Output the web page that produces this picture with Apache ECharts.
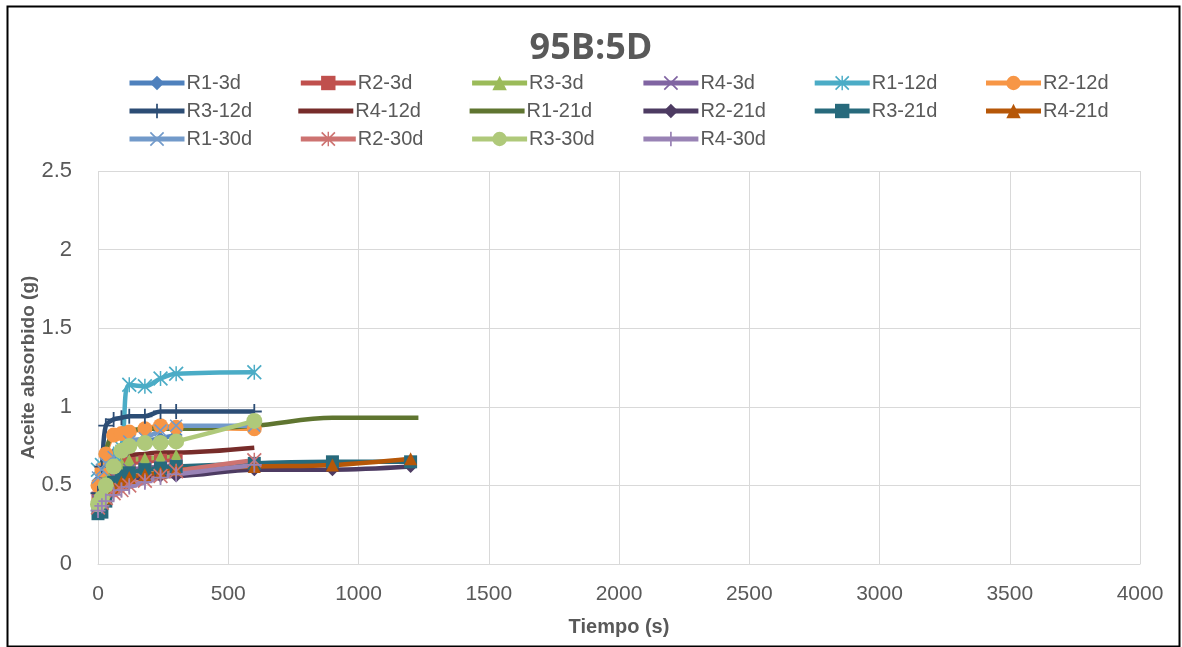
<!DOCTYPE html>
<html><head><meta charset="utf-8">
<script src="https://cdn.jsdelivr.net/npm/echarts@6/dist/echarts.min.js"></script>
<style>html,body{margin:0;padding:0;background:#fff}#c{width:1182px;height:647px}</style>
</head><body><div id="c"></div>
<script>
// ---- data ----
const seriesNames = ['R1-3d','R2-3d','R3-3d','R4-3d','R1-12d','R2-12d','R3-12d','R4-12d','R1-21d','R2-21d','R3-21d','R4-21d','R1-30d','R2-30d','R3-30d','R4-30d'];
const t3 = [0,15,30,60,90,120,180,240,300];
const t12 = [0,15,30,60,90,120,180,240,300,600];
const t21 = [0,15,30,60,90,120,180,240,300,600,900,1200];
const t21b = [0,15,30,60,90,120,180,240,300,600,900,1230];
const t30 = [0,15,30,60,90,120,180,240,300,600];
const R1_3d = [0.53,0.56,0.62,0.70,0.74,0.76,0.78,0.80,0.82];
const R2_3d = [0.42,0.48,0.55,0.60,0.62,0.64,0.65,0.66,0.66];
const R3_3d = [0.45,0.52,0.58,0.62,0.64,0.66,0.67,0.68,0.69];
const R4_3d = [0.40,0.46,0.52,0.56,0.58,0.60,0.61,0.62,0.63];
const R1_12d = [0.60,0.63,0.66,0.70,0.74,1.14,1.13,1.18,1.21,1.22];
const R2_12d = [0.50,0.60,0.70,0.82,0.83,0.84,0.86,0.88,0.87,0.86];
const R3_12d = [0.45,0.62,0.88,0.92,0.93,0.94,0.94,0.97,0.97,0.97];
const R4_12d = [0.40,0.45,0.50,0.60,0.66,0.69,0.70,0.71,0.71,0.74];
const R1_21d = [0.50,0.60,0.72,0.84,0.85,0.85,0.86,0.86,0.86,0.88,0.93,0.93];
const R2_21d = [0.38,0.42,0.46,0.50,0.52,0.54,0.55,0.56,0.56,0.60,0.60,0.62];
const R3_21d = [0.32,0.33,0.40,0.52,0.56,0.58,0.60,0.61,0.62,0.64,0.65,0.65];
const R4_21d = [0.38,0.40,0.42,0.48,0.52,0.55,0.57,0.58,0.60,0.62,0.63,0.67];
const R1_30d = [0.55,0.60,0.64,0.68,0.72,0.78,0.80,0.85,0.88,0.88];
const R2_30d = [0.36,0.39,0.42,0.45,0.47,0.50,0.53,0.56,0.59,0.66];
const R3_30d = [0.38,0.42,0.50,0.62,0.72,0.75,0.77,0.77,0.78,0.91];
const R4_30d = [0.34,0.37,0.40,0.44,0.47,0.49,0.52,0.55,0.57,0.63];
const seriesTimes = [t3,t3,t3,t3,t12,t12,t12,t12,t21b,t21,t21,t21,t30,t30,t30,t30];
const seriesValues = [R1_3d,R2_3d,R3_3d,R4_3d,R1_12d,R2_12d,R3_12d,R4_12d,R1_21d,R2_21d,R3_21d,R4_21d,R1_30d,R2_30d,R3_30d,R4_30d];
const xTicks = [0,500,1000,1500,2000,2500,3000,3500,4000];
const yTicks = [0,0.5,1,1.5,2,2.5];

// ---- styles ----
const colors = ['#4F81BD','#C0504D','#9BBB59','#8064A2','#4BACC6','#F79646','#2C4D75','#772C2A','#5F7530','#4D3B62','#276A7C','#B65708','#729ACA','#CD7371','#AFC97A','#9983B5'];
const X = 'path://M0,0.8L0.8,0L5,4.2L9.2,0L10,0.8L5.8,5L10,9.2L9.2,10L5,5.8L0.8,10L0,9.2L4.2,5Z';
const AST = 'path://M0,0.8L0.8,0L5,4.2L9.2,0L10,0.8L5.8,5L10,9.2L9.2,10L5,5.8L0.8,10L0,9.2L4.2,5Z M4.5,0L5.5,0L5.5,10L4.5,10Z';
const PLUS = 'path://M4.4,0H5.6V4.4H10V5.6H5.6V10H4.4V5.6H0V4.4H4.4Z';
const LINE_ICON = 'path://M0,0L0.01,0L0.01,18L0,18Z M0,6.5L55,6.5L55,11.5L0,11.5Z';
const symbols = ['diamond','rect','triangle',X,AST,'circle',PLUS,'none','none','diamond','rect','triangle',X,AST,'circle',PLUS];
const sizes = [13,13,13,13,15,15,15,0,0,13,13,13,13,15,16,15];

const legends = seriesNames.map((n,i)=>{
  const noMark = symbols[i] === 'none';
  return {
    data: noMark ? [{name:n, icon:LINE_ICON}] : [n],
    left:127 + (i%6)*171.3,
    top:73 + Math.floor(i/6)*28,
    itemWidth:55, itemHeight:18, itemGap:0, padding:0,
    lineStyle:{width:5},
    textStyle:{fontFamily:'Liberation Sans, Arial',fontSize:20,color:'#595959',padding:[0,0,0,-3]}
  };
});

const series = seriesNames.map((n,i)=>({
  name:n, type:'line', smooth:0.35,
  data: seriesTimes[i].map((t,j)=>[t, seriesValues[i][j]]),
  symbol:symbols[i], symbolSize:sizes[i], showSymbol: symbols[i] !== 'none',
  lineStyle:{color:colors[i], width:4.5},
  itemStyle:{color:colors[i]},
  color:colors[i]
}));

const chart = echarts.init(document.getElementById('c'));
chart.setOption({
  animation:false,
  backgroundColor:'#fff',
  title:{text:'95B:5D', left:'center', top:26, textStyle:{fontFamily:'Open Sans, Liberation Sans',fontSize:36,fontWeight:'bold',color:'#595959'}},
  legend: legends,
  grid:{left:98, right:42, top:171, bottom:83},
  xAxis:{type:'value', min:xTicks[0], max:xTicks[xTicks.length-1], interval:500,
    name:'Tiempo (s)', nameLocation:'middle', nameGap:53, nameMoveOverlap:false,
    nameTextStyle:{fontFamily:'Liberation Sans, Arial',fontSize:20,fontWeight:'bold',color:'#595959'},
    axisLine:{show:true,lineStyle:{color:'#D9D9D9',width:1}}, axisTick:{show:false},
    axisLabel:{fontFamily:'Liberation Sans, Arial',fontSize:21,color:'#595959',margin:20, formatter:v=>String(v)},
    splitLine:{show:true,lineStyle:{color:'#D9D9D9',width:1}}},
  yAxis:{type:'value', min:yTicks[0], max:yTicks[yTicks.length-1], interval:0.5,
    name:'Aceite absorbido (g)', nameLocation:'middle', nameGap:60, nameMoveOverlap:false,
    nameTextStyle:{fontFamily:'Liberation Sans, Arial',fontSize:19,fontWeight:'bold',color:'#595959'},
    axisLine:{show:false}, axisTick:{show:false},
    axisLabel:{fontFamily:'Liberation Sans, Arial',fontSize:22,color:'#595959',margin:26},
    splitLine:{show:true,lineStyle:{color:'#D9D9D9',width:1}}},
  graphic:[{type:'rect', left:5, top:4, shape:{width:1172, height:640}, style:{fill:'none', stroke:'#000', lineWidth:2}, silent:true}],
  series: series
});
</script></body></html>
